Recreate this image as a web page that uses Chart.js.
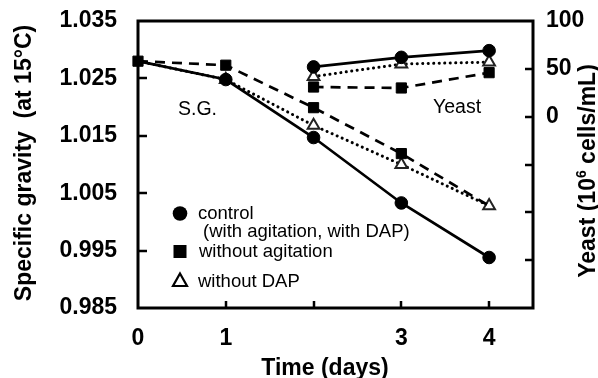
<!DOCTYPE html>
<html><head><meta charset="utf-8">
<script src="https://cdn.jsdelivr.net/npm/chart.js@4"></script>
<style>html,body{margin:0;padding:0;background:#fff;} #wrap{width:598px;height:378px;}</style>
</head><body><div id="wrap"><canvas id="c" width="598" height="378"></canvas></div>
<script>
// ---- data ----
const days = [0, 1, 2, 3, 4];
const sgControl = [1.028, 1.0248, 1.0147, 1.0033, 0.9938];
const sgNoAgitation = [1.028, 1.0273, 1.0199, 1.0119, 1.0028];
const sgNoDAP = [1.028, 1.0248, 1.0168, 1.0100, 1.0028];
const yeastDays = [2, 3, 4];
const yeastControl = [52, 62, 69];
const yeastNoAgitation = [31, 30, 46];
const yeastNoDAP = [42, 55, 57];
const xTicks = [0, 1, 2, 3, 4];
const xTickLabels = ['0', '1', '', '3', '4'];
const sgTicks = [0.985, 0.995, 1.005, 1.015, 1.025, 1.035];
const yeastTicks = [-200, -150, -100, -50, 0, 50, 100];
const yeastTickLabels = ['', '', '', '', '0', '50', '100'];
const legendLines = ['control', '(with agitation, with DAP)', 'without agitation', 'without DAP'];
const xTitle = 'Time (days)';
const yTitle = 'Specific gravity  (at 15\u00B0C)';
const y2TitleParts = ['Yeast (10', '6', ' cells/mL)'];
const noteSG = 'S.G.';
const noteYeast = 'Yeast';

const FONT = '"Liberation Sans", Arial, Helvetica, sans-serif';
Chart.defaults.font.family = FONT;
Chart.defaults.color = '#000';

const pts = (xs, ys) => xs.map((x, i) => ({x, y: ys[i]}));

const styleCircle = {pointStyle: 'circle', pointRadius: 6.3, pointBackgroundColor: '#000', pointBorderColor: '#000', pointBorderWidth: 1};
const styleSquare = {pointStyle: 'rect', pointRadius: 7.2, pointBackgroundColor: '#000', pointBorderColor: '#000', pointBorderWidth: 1};
const styleTri = {pointStyle: 'triangle', pointRadius: 6.8, pointBackgroundColor: '#fff', pointBorderColor: '#222', pointBorderWidth: 2};
const lineSolid = {borderColor: '#000', borderWidth: 2.7, borderDash: []};
const lineDash = {borderColor: '#000', borderWidth: 2.7, borderDash: [10, 7]};
const lineDot = {borderColor: '#000', borderWidth: 3, borderDash: [0.1, 5.4], borderCapStyle: 'round'};
const hideFirst = r => ctx => ctx.dataIndex === 0 ? 0 : r;
// the last "without agitation" S.G. marker sits under the triangle and is not visible in the reference
const hideLast = r => ctx => ctx.dataIndex === days.length - 1 ? 0 : r;

const datasets = [
  Object.assign({label: 'sgNoAgitation', data: pts(days, sgNoAgitation), yAxisID: 'y', order: 1}, lineDash, styleSquare, {pointRadius: hideLast(7.2)}),
  Object.assign({label: 'sgNoDAP', data: pts(days, sgNoDAP), yAxisID: 'y', order: 4}, lineDot, styleTri, {pointRadius: hideFirst(6.8)}),
  Object.assign({label: 'sgControl', data: pts(days, sgControl), yAxisID: 'y', order: 3}, lineSolid, styleCircle, {pointRadius: hideFirst(6.3)}),
  Object.assign({label: 'yNoAgitation', data: pts(yeastDays, yeastNoAgitation), yAxisID: 'y2', order: 8}, lineDash, styleSquare),
  Object.assign({label: 'yNoDAP', data: pts(yeastDays, yeastNoDAP), yAxisID: 'y2', order: 7}, lineDot, styleTri),
  Object.assign({label: 'yControl', data: pts(yeastDays, yeastControl), yAxisID: 'y2', order: 6}, lineSolid, styleCircle)
];
datasets.forEach(d => { d.fill = false; d.tension = 0; d.clip = false; d.showLine = true; });

const decor = {
  id: 'decor',
  beforeDatasetsDraw(chart) {
    const {ctx, chartArea: a, scales} = chart;
    ctx.save();
    ctx.strokeStyle = '#000';
    ctx.lineWidth = 2.5;
    ctx.beginPath();
    scales.y.ticks.forEach(t => {
      if (t.value > scales.y.min + 1e-9 && t.value < scales.y.max - 1e-9) {
        const p = Math.round(scales.y.getPixelForValue(t.value));
        ctx.moveTo(a.left, p); ctx.lineTo(a.left + 9, p);
      }
    });
    scales.y2.ticks.forEach(t => {
      if (t.value > scales.y2.min && t.value < scales.y2.max) {
        const p = Math.round(scales.y2.getPixelForValue(t.value));
        ctx.moveTo(a.right, p); ctx.lineTo(a.right - 8, p);
      }
    });
    scales.x.ticks.forEach(t => {
      if (t.value > scales.x.min && t.value < scales.x.max) {
        const p = Math.round(scales.x.getPixelForValue(t.value));
        ctx.moveTo(p, a.bottom); ctx.lineTo(p, a.bottom - 7);
      }
    });
    ctx.stroke();
    ctx.lineWidth = 3;
    ctx.strokeRect(a.left, a.top, a.right - a.left, a.bottom - a.top);
    ctx.restore();
  },
  afterDraw(chart) {
    const {ctx} = chart;
    ctx.save();
    ctx.fillStyle = '#000';
    // axis titles
    ctx.font = 'bold 23px ' + FONT;
    ctx.textAlign = 'center';
    ctx.textBaseline = 'alphabetic';
    ctx.fillText(xTitle, 325, 375);
    ctx.save();
    ctx.translate(31, 163);
    ctx.rotate(-Math.PI / 2);
    ctx.fillText(yTitle, 0, 0);
    ctx.restore();
    // right title with superscript
    ctx.save();
    ctx.translate(595, 171);
    ctx.rotate(-Math.PI / 2);
    ctx.textAlign = 'left';
    const big = 'bold 23px ' + FONT, small = 'bold 14px ' + FONT;
    ctx.font = big; const w1 = ctx.measureText(y2TitleParts[0]).width, w3 = ctx.measureText(y2TitleParts[2]).width;
    ctx.font = small; const w2 = ctx.measureText(y2TitleParts[1]).width;
    let x0 = -(w1 + w2 + w3) / 2;
    ctx.font = big; ctx.fillText(y2TitleParts[0], x0, 0); x0 += w1;
    ctx.font = small; ctx.fillText(y2TitleParts[1], x0, -9); x0 += w2;
    ctx.font = big; ctx.fillText(y2TitleParts[2], x0, 0);
    ctx.restore();
    // notes
    ctx.textAlign = 'left';
    ctx.font = '19.5px ' + FONT;
    ctx.fillText(noteSG, 178, 115);
    ctx.fillText(noteYeast, 433, 113);
    // legend
    ctx.font = '18.5px ' + FONT;
    ctx.fillText(legendLines[0], 198, 219);
    ctx.fillText(legendLines[1], 203, 237);
    ctx.fillText(legendLines[2], 199, 257);
    ctx.fillText(legendLines[3], 198, 286.5);
    ctx.beginPath(); ctx.arc(180, 213.5, 7.3, 0, Math.PI * 2); ctx.fill();
    ctx.fillRect(173.5, 245, 13, 13);
    ctx.beginPath();
    ctx.moveTo(180, 273.5); ctx.lineTo(187, 286); ctx.lineTo(173, 286); ctx.closePath();
    ctx.lineWidth = 2.2; ctx.lineJoin = 'miter'; ctx.strokeStyle = '#000'; ctx.stroke();
    ctx.restore();
  }
};

const tickFont = {family: FONT, size: 23, weight: 'bold'};
const fitV = w => s => { s.width = w; s.paddingTop = 0; s.paddingBottom = 0; };
new Chart(document.getElementById('c'), {
  type: 'scatter',
  data: {datasets},
  options: {
    responsive: false,
    animation: false,
    devicePixelRatio: 1,
    layout: {padding: {top: 21, left: 0, right: 0, bottom: 0}},
    plugins: {legend: {display: false}, tooltip: {enabled: false}, title: {display: false}},
    scales: {
      x: {
        type: 'linear', position: 'bottom', min: 0, max: 4.5,
        grid: {display: false, drawTicks: false}, border: {display: false},
        afterBuildTicks: s => { s.ticks = xTicks.map(v => ({value: v})); },
        afterFit: s => { s.height = 70; s.paddingLeft = 0; s.paddingRight = 0; },
        ticks: {font: tickFont, padding: 17, maxRotation: 0, autoSkip: false, callback: (v, i) => xTickLabels[i]}
      },
      y: {
        type: 'linear', position: 'left', min: 0.985, max: 1.035,
        grid: {display: false, drawTicks: false}, border: {display: false},
        afterBuildTicks: s => { s.ticks = sgTicks.map(v => ({value: v})); },
        afterFit: fitV(138),
        ticks: {font: tickFont, padding: 21, autoSkip: false, callback: v => Number(v).toFixed(3)}
      },
      y2: {
        type: 'linear', position: 'right', min: -200, max: 100,
        grid: {display: false, drawTicks: false}, border: {display: false},
        afterBuildTicks: s => { s.ticks = yeastTicks.map(v => ({value: v})); },
        afterFit: fitV(65),
        ticks: {font: tickFont, padding: 13, autoSkip: false, callback: (v, i) => yeastTickLabels[i]}
      }
    }
  },
  plugins: [decor]
});
</script>
</body></html>
